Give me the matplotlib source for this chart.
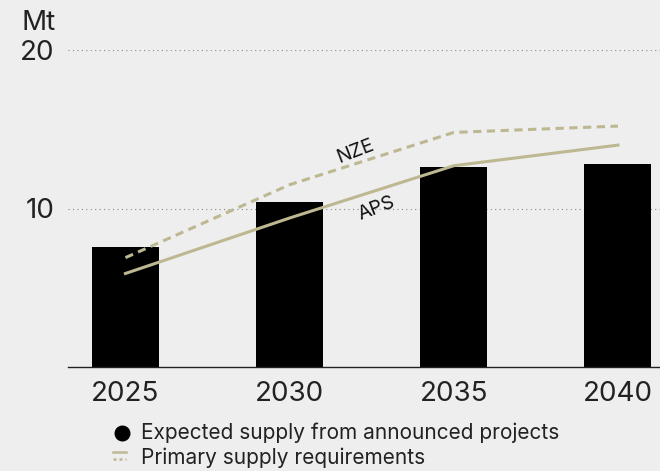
import matplotlib
matplotlib.use("Agg")
import matplotlib.pyplot as plt
from matplotlib.lines import Line2D

plt.rcParams['font.family'] = ['Inter', 'DejaVu Sans']

years = [2025, 2030, 2035, 2040]
expected_supply = [7.6, 10.4, 12.6, 12.8]
aps = [5.9, 9.4, 12.7, 14.0]
nze = [6.9, 11.5, 14.8, 15.2]

bg = "#eeeeee"
khaki = "#bdb892"
ink = "#222222"

fig = plt.figure(figsize=(6.6, 4.71), dpi=100, facecolor=bg)
ax = fig.add_axes([68 / 660, 104 / 471, 592 / 660, 317 / 471], facecolor=bg)

ax.bar(years, expected_supply, width=2.04, color="black", zorder=2)
ax.plot(years, aps, color=khaki, lw=2.2, zorder=3)
ax.plot(years, nze, color=khaki, lw=2.2, ls=(0, (2.7, 1.8)), zorder=3)

ax.text(2032.0, 13.6, "NZE", rotation=21, fontsize=14, color="#111111",
        ha="center", va="center")
ax.text(2032.65, 10.0, "APS", rotation=21, fontsize=14, color="#111111",
        ha="center", va="center")

ax.set_xlim(2023.25, 2041.28)
ax.set_ylim(0, 20)
ax.set_xticks(years)
ax.set_xticklabels([str(y) for y in years])
ax.set_yticks([10, 20])
ax.tick_params(axis="both", length=0, labelsize=20, colors=ink)
ax.tick_params(axis="x", pad=10)
ax.tick_params(axis="y", pad=10)
for s in ["top", "right", "left"]:
    ax.spines[s].set_visible(False)
ax.spines["bottom"].set_color(ink)
ax.spines["bottom"].set_linewidth(1)
ax.grid(axis="y", color="#888888", ls=(0, (1, 3)), lw=0.8)
ax.set_axisbelow(True)

fig.text(22 / 660, 1 - 30 / 471, "Mt", fontsize=20, color=ink, va="baseline")

# legend
fig.add_artist(Line2D([122 / 660], [1 - 433 / 471], marker="o", color="black",
                      markersize=10.5, transform=fig.transFigure))
fig.text(141 / 660, 1 - 433 / 471, "Expected supply from announced projects",
         fontsize=15, color=ink, va="center")
fig.add_artist(Line2D([113 / 660, 126 / 660], [1 - 452 / 471] * 2, color=khaki,
                      lw=1.8, transform=fig.transFigure))
fig.add_artist(Line2D([113 / 660, 126 / 660], [1 - 459 / 471] * 2, color=khaki,
                      lw=1.8, ls=(0, (1.2, 1.2)), transform=fig.transFigure))
fig.text(141 / 660, 1 - 458 / 471, "Primary supply requirements",
         fontsize=15, color=ink, va="center")

fig.savefig("out.png", dpi=100, facecolor=bg)
